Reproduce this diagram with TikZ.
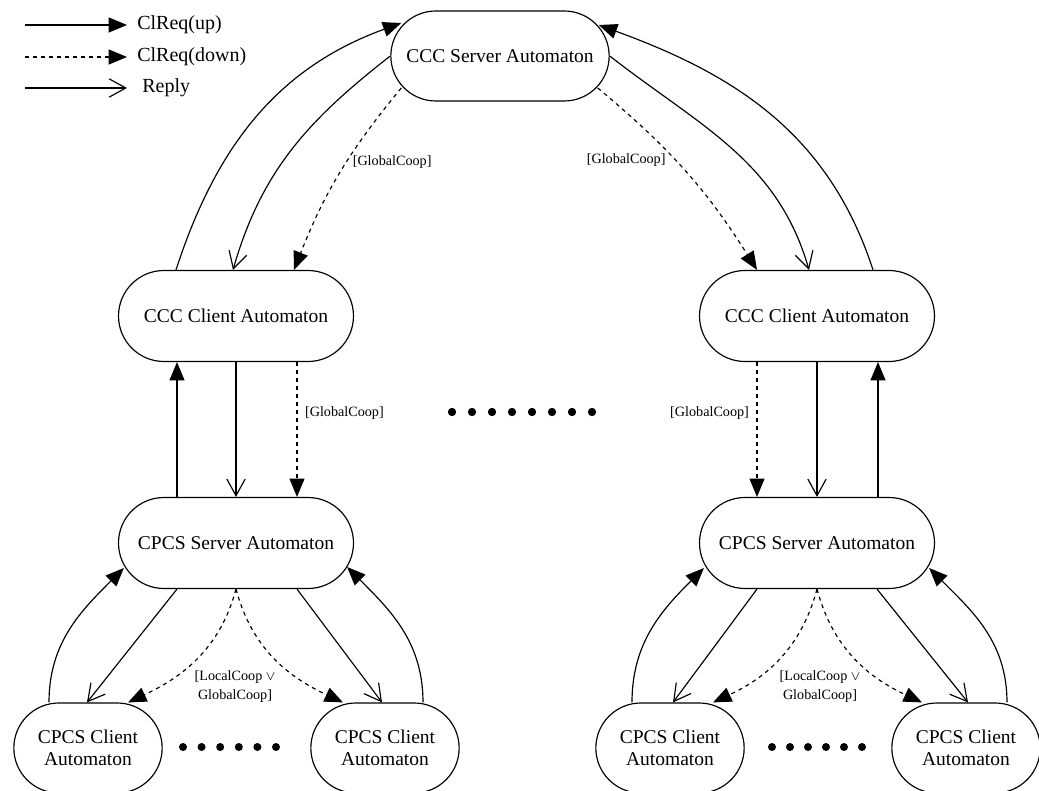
\documentclass[tikz,border=0pt]{standalone}
\usepackage{fontspec}
\setmainfont{Liberation Serif}
\usetikzlibrary{shapes.misc,arrows.meta,calc}
\tikzset{
  automaton/.style={rounded rectangle, draw, line width=0.7pt, minimum width=145pt, minimum height=54.6pt, inner sep=2pt, align=center, font=\fontsize{11.7}{13.2}\selectfont},
  client/.style={automaton, minimum width=93pt, minimum height=54pt},
  req/.style={line width=0.7pt, -{Triangle[length=11pt,width=9pt]}},
  reqdown/.style={req, dash pattern=on 2.4pt off 2.4pt},
  reply/.style={line width=0.7pt, -{Straight Barb[length=10pt,width=11pt]}},
  guard/.style={inner sep=1.5pt, align=center, font=\fontsize{8.5}{11.4}\selectfont},
  legend/.style={anchor=west, inner sep=0pt, font=\fontsize{12}{14}\selectfont}
}
\begin{document}
\begin{tikzpicture}[x=0.6pt,y=0.6pt]
            \useasboundingbox (0,0) rectangle (1039,-791);
            % Legend
            \coordinate (lgup) at (25,-25);
            \coordinate (lgdown) at (25,-57);
            \coordinate (lgreply) at (25,-88);
            \node[legend] (tup) at (137,-25) {ClReq(up)};
            \node[legend] (tdown) at (137,-57) {ClReq(down)};
            \node[legend] (treply) at (142,-88) {Reply};
            \draw[req] (lgup) -- ([xshift=-6pt]tup.west);
            \draw[reqdown] (lgdown) -- ([xshift=-6pt]tdown.west);
            \draw[reply] (lgreply) -- ([xshift=-9pt]treply.west);
            % Automata
            \node[automaton, minimum width=135pt, minimum height=54pt] (srv) at (500,-56) {CCC Server Automaton};
            \node[automaton] (cclL) at (236,-316) {CCC Client Automaton};
            \node[automaton] (cclR) at (817,-316) {CCC Client Automaton};
            \node[automaton] (cpsL) at (236,-543) {CPCS Server Automaton};
            \node[automaton] (cpsR) at (817,-543) {CPCS Server Automaton};
            \node[client] (cpcL1) at (88,-748) {CPCS Client\\Automaton};
            \node[client] (cpcL2) at (385,-748) {CPCS Client\\Automaton};
            \node[client] (cpcR1) at (670,-748) {CPCS Client\\Automaton};
            \node[client] (cpcR2) at (966,-748) {CPCS Client\\Automaton};
            % Server <-> CCC clients
            \draw[req] ($(cclL.north)+(-60,0)$) to[out=72,in=200] ($(srv.west)+(11,33)$);
            \draw[reply] (srv.west) to[out=218,in=74] ($(cclL.north)+(-3,0)$);
            \draw[reqdown] ($(srv.west)+(11,-32)$) to[bend right=9] node[pos=0.43, right=2pt, guard] (gc1) {[GlobalCoop]} ($(cclL.north)+(58,0)$);
            \draw[req] ($(cclR.north)+(56,0)$) to[out=108,in=-20] ($(srv.east)+(-11,31)$);
            \draw[reply] (srv.east) to[out=-38,in=106] ($(cclR.north)+(-8,0)$);
            \draw[reqdown] ($(srv.east)+(-12,-32)$) to[bend left=9] node[pos=0.43, left=4pt, guard] (gc2) {[GlobalCoop]} ($(cclR.north)+(-60,0)$);
            % CCC clients <-> CPCS servers
            \draw[req] ($(cpsL.north)+(-59,0)$) -- ($(cclL.south)+(-59,0)$);
            \draw[reply] (cclL.south) -- (cpsL.north);
            \draw[reqdown] ($(cclL.south)+(61,0)$) -- node[pos=0.38, right=3pt, guard] (gc3) {[GlobalCoop]} ($(cpsL.north)+(61,0)$);
            \draw[reqdown] ($(cclR.south)+(-60,0)$) -- node[pos=0.38, left=3pt, guard] (gc4) {[GlobalCoop]} ($(cpsR.north)+(-60,0)$);
            \draw[reply] (cclR.south) -- (cpsR.north);
            \draw[req] ($(cpsR.north)+(61,0)$) -- ($(cclR.south)+(61,0)$);
            % Left CPCS server <-> clients
            \draw[req] ($(cpcL1.north)+(-39,0)$) to[out=90,in=225] ($(cpsL.west)+(6,-25)$);
            \draw[reply] ($(cpsL.south)+(-59,0)$) -- ($(cpcL1.north)+(-1,0)$);
            \draw[reqdown] (cpsL.south) to[out=255,in=25] ($(cpcL1.north)+(40,0)$);
            \draw[reqdown] (cpsL.south) to[out=285,in=155] ($(cpcL2.north)+(-42,0)$);
            \draw[reply] ($(cpsL.south)+(61,0)$) -- ($(cpcL2.north)+(-3,0)$);
            \draw[req] ($(cpcL2.north)+(38,0)$) to[out=90,in=-45] ($(cpsL.east)+(-7,-24)$);
            \node[guard] (lg1) at (235,-687) {[LocalCoop $\vee$\\GlobalCoop]};
            % Right CPCS server <-> clients
            \draw[req] ($(cpcR1.north)+(-38,0)$) to[out=90,in=225] ($(cpsR.west)+(5,-25)$);
            \draw[reply] ($(cpsR.south)+(-60,0)$) -- ($(cpcR1.north)+(3,0)$);
            \draw[reqdown] (cpsR.south) to[out=255,in=25] ($(cpcR1.north)+(43,0)$);
            \draw[reqdown] (cpsR.south) to[out=285,in=155] ($(cpcR2.north)+(-44,0)$);
            \draw[reply] ($(cpsR.south)+(60,0)$) -- ($(cpcR2.north)+(2,0)$);
            \draw[req] ($(cpcR2.north)+(41,0)$) to[out=90,in=-45] ($(cpsR.east)+(-6,-25)$);
            \node[guard] (lg2) at (820,-687) {[LocalCoop $\vee$\\GlobalCoop]};
            % Dots
            \foreach \i in {0,...,7} \fill (452+20*\i,-412) circle (2.5pt);
            \foreach \i in {0,...,5} {
                \fill (183+18.6*\i,-747) circle (2.4pt);
                \fill (772+18*\i,-747) circle (2.4pt);
            }
        \end{tikzpicture}
\end{document}
